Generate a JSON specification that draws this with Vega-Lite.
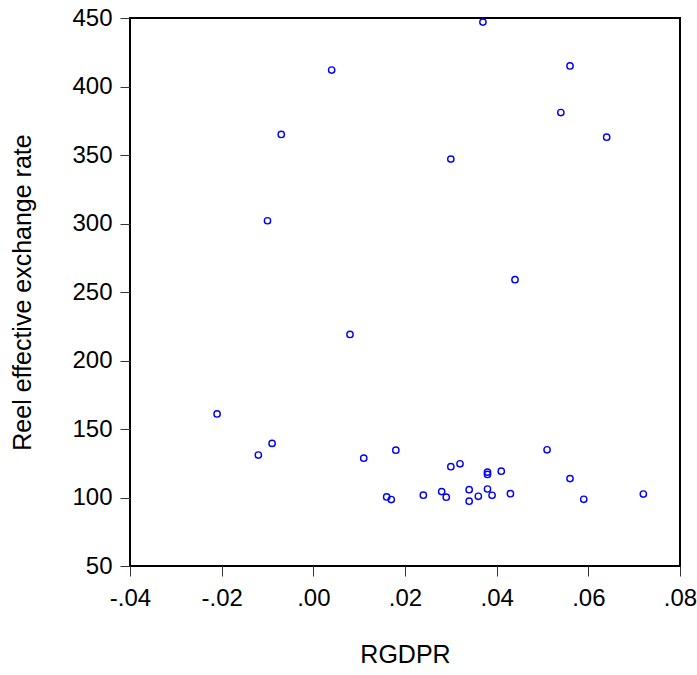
{
  "$schema": "https://vega.github.io/schema/vega-lite/v6.json",
  "width": 550,
  "height": 548,
  "autosize": {"type": "none"},
  "padding": {"left": 130, "top": 18, "right": 17, "bottom": 109},
  "background": "white",
  "config": {
    "view": {"stroke": "black", "strokeWidth": 2},
    "font": "Liberation Sans",
    "axis": {
      "grid": false,
      "domain": false,
      "tickColor": "#333333",
      "tickWidth": 1,
      "tickSize": 10,
      "labelFont": "Liberation Sans",
      "labelFontSize": 24,
      "labelColor": "black",
      "titleFont": "Liberation Sans",
      "titleFontSize": 25,
      "titleFontWeight": "normal",
      "titleColor": "black"
    }
  },
  "data": {
    "values": [
      {"RGDPR": 0.037, "REER": 447},
      {"RGDPR": 0.004, "REER": 412},
      {"RGDPR": 0.056, "REER": 415},
      {"RGDPR": 0.054, "REER": 381},
      {"RGDPR": -0.007, "REER": 365},
      {"RGDPR": 0.064, "REER": 363},
      {"RGDPR": 0.030, "REER": 347},
      {"RGDPR": -0.010, "REER": 302},
      {"RGDPR": 0.044, "REER": 259},
      {"RGDPR": 0.008, "REER": 219},
      {"RGDPR": -0.021, "REER": 161},
      {"RGDPR": -0.009, "REER": 139.5},
      {"RGDPR": -0.012, "REER": 131},
      {"RGDPR": 0.011, "REER": 128.7},
      {"RGDPR": 0.018, "REER": 134.5},
      {"RGDPR": 0.030, "REER": 122.5},
      {"RGDPR": 0.032, "REER": 124.6},
      {"RGDPR": 0.038, "REER": 118.5},
      {"RGDPR": 0.038, "REER": 116.8},
      {"RGDPR": 0.041, "REER": 119.2},
      {"RGDPR": 0.051, "REER": 134.8},
      {"RGDPR": 0.056, "REER": 113.8},
      {"RGDPR": 0.016, "REER": 100.4},
      {"RGDPR": 0.017, "REER": 98.5},
      {"RGDPR": 0.024, "REER": 101.7},
      {"RGDPR": 0.028, "REER": 104.3},
      {"RGDPR": 0.029, "REER": 100.2},
      {"RGDPR": 0.034, "REER": 105.7},
      {"RGDPR": 0.034, "REER": 97.3},
      {"RGDPR": 0.036, "REER": 100.9},
      {"RGDPR": 0.038, "REER": 106.2},
      {"RGDPR": 0.039, "REER": 101.6},
      {"RGDPR": 0.043, "REER": 102.8},
      {"RGDPR": 0.059, "REER": 98.7},
      {"RGDPR": 0.072, "REER": 102.5}
    ]
  },
  "mark": {"type": "point", "shape": "circle", "filled": false, "color": "#0000ff", "size": 40, "strokeWidth": 1.4, "opacity": 1},
  "encoding": {
    "x": {
      "field": "RGDPR",
      "type": "quantitative",
      "title": "RGDPR",
      "scale": {"domain": [-0.04, 0.08], "nice": false, "zero": false},
      "axis": {
        "values": [-0.04, -0.02, 0, 0.02, 0.04, 0.06, 0.08],
        "labelExpr": "replace(replace(format(datum.value, '.2f'), '0.', '.'), '−', '-')",
        "labelPadding": 10,
        "titlePadding": 32,
        "labelFlush": false,
        "labelOverlap": false
      }
    },
    "y": {
      "field": "REER",
      "type": "quantitative",
      "title": "Reel effective exchange rate",
      "scale": {"domain": [50, 450], "nice": false, "zero": false},
      "axis": {
        "values": [50, 100, 150, 200, 250, 300, 350, 400, 450],
        "labelPadding": 8,
        "titlePadding": 36,
        "labelFlush": false,
        "labelOverlap": false
      }
    }
  }
}
